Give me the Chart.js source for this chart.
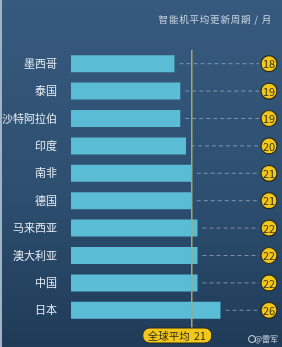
<!DOCTYPE html>
<html>
<head>
<meta charset="utf-8">
<script src="https://cdn.jsdelivr.net/npm/chart.js@4"></script>
<style>
  html, body { margin: 0; padding: 0; }
  body {
    width: 282px; height: 347px; overflow: hidden;
    background: linear-gradient(#365a7e, #2d4f70 55%, #1f3b58);
  }
  #wrap { position: relative; width: 282px; height: 347px; }
  #wrap::after {
    content: ''; position: absolute; left: 0; top: 0; bottom: 0; width: 2px;
    background: #9fb4c6;
  }
</style>
</head>
<body>
<div id="wrap"><canvas id="myChart" width="282" height="347"></canvas></div>
<script>
const ctx = document.getElementById('myChart');

const countries = ['墨西哥', '泰国', '沙特阿拉伯', '印度', '南非', '德国', '马来西亚', '澳大利亚', '中国', '日本'];
const months = [18, 19, 19, 20, 21, 21, 22, 22, 22, 26];
const globalAvg = 21;
const titleText = '智能机平均更新周期 / 月';
const avgLabel = '全球平均';
const credit = '@雷军';

const cjk = '"Noto Sans CJK SC", "Noto Sans", sans-serif';

// dashed leader lines, yellow badges, average line, title
const extras = {
    id: 'extras',
    afterDatasetsDraw(chart) {
        const c = chart.ctx;
        const area = chart.chartArea;
        const xs = chart.scales.x;
        const meta = chart.getDatasetMeta(0);
        const r = 8;
        const cx = area.right - r - 1;

        meta.data.forEach((bar, i) => {
            c.save();
            c.strokeStyle = 'rgba(190,205,220,0.55)';
            c.lineWidth = 1;
            c.setLineDash([4, 3]);
            c.beginPath();
            c.moveTo(bar.x + 5, bar.y);
            c.lineTo(cx - r - 2, bar.y);
            c.stroke();
            c.setLineDash([]);
            c.beginPath();
            c.arc(cx, bar.y, r, 0, Math.PI * 2);
            c.fillStyle = '#f2c71b';
            c.fill();
            c.lineWidth = 1.2;
            c.strokeStyle = '#2a2a1a';
            c.stroke();
            c.fillStyle = '#3a3220';
            c.font = '11px ' + cjk;
            c.textAlign = 'center';
            c.textBaseline = 'middle';
            c.fillText(String(months[i]), cx, bar.y + 0.5);
            c.restore();
        });

        // global average line
        const ax = xs.getPixelForValue(globalAvg);
        c.save();
        c.strokeStyle = '#a8a56e';
        c.lineWidth = 1.5;
        c.beginPath();
        c.moveTo(ax, area.top);
        c.lineTo(ax, area.bottom + 4);
        c.stroke();

        // badge
        const bw = 69, bh = 15;
        const bx = ax + 20 - bw, by = area.bottom + 4;
        c.beginPath();
        c.roundRect(bx, by, bw, bh, 7);
        c.fillStyle = '#f2c71b';
        c.fill();
        c.lineWidth = 1;
        c.strokeStyle = '#2a2a1a';
        c.stroke();
        c.fillStyle = '#2e2a1c';
        c.font = '10.5px ' + cjk;
        c.textBaseline = 'middle';
        c.textAlign = 'left';
        c.fillText(avgLabel, bx + 5, by + bh / 2 + 0.5);
        c.textAlign = 'right';
        c.fillText(String(globalAvg), bx + bw - 6, by + bh / 2 + 0.5);

        // title
        c.fillStyle = '#c9d5e0';
        c.font = '9.5px ' + cjk;
        c.letterSpacing = '0.8px';
        c.textAlign = 'right';
        c.fillText(titleText, 272, 19);
        c.letterSpacing = '0px';

        // credit
        c.fillStyle = '#d6dde4';
        c.font = '8px ' + cjk;
        c.fillText(credit, 278, 339);
        c.beginPath();
        c.arc(252, 339, 3.5, 0, Math.PI * 2);
        c.strokeStyle = '#d6dde4';
        c.lineWidth = 1;
        c.stroke();
        c.restore();
    }
};

new Chart(ctx, {
    type: 'bar',
    data: {
        labels: countries,
        datasets: [{
            data: months,
            backgroundColor: '#5bbcd6',
            borderWidth: 0,
            barPercentage: 0.62,
            categoryPercentage: 1
        }]
    },
    options: {
        indexAxis: 'y',
        responsive: false,
        animation: false,
        layout: { padding: { top: 50, bottom: 23, left: 0, right: 4 } },
        plugins: {
            legend: { display: false },
            tooltip: { enabled: false }
        },
        scales: {
            x: {
                min: 0,
                max: 36,
                display: false
            },
            y: {
                grid: { display: false, drawTicks: false },
                border: { display: false },
                afterFit: s => { s.width = 71; },
                ticks: {
                    color: '#e8eef4',
                    padding: 14,
                    font: { size: 11, family: cjk }
                }
            }
        }
    },
    plugins: [extras]
});
</script>
</body>
</html>
